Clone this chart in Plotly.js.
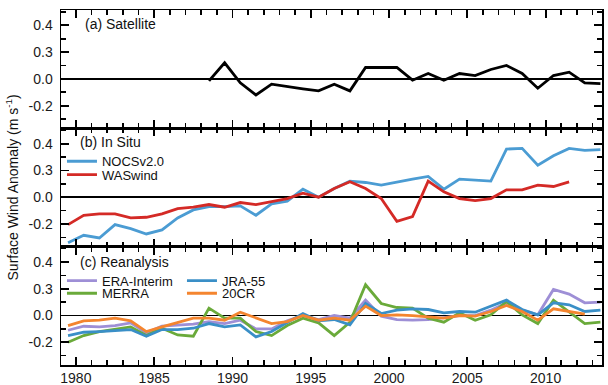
<!DOCTYPE html>
<html>
<head>
<meta charset="utf-8">
<script src="https://cdn.plot.ly/plotly-3.0.1.min.js"></script>
<style>html,body{margin:0;padding:0;background:#fff}#chart{width:608px;height:385px}</style>
</head>
<body>
<div id="chart"></div>
<script>
// ---------- data (annual means, plotted at mid-year) ----------
var yearsSat = [1988,1989,1990,1991,1992,1993,1994,1995,1996,1997,1998,1999,2000,2001,2002,2003,2004,2005,2006,2007,2008,2009,2010,2011,2012,2013];
var ssmi = [-0.015,0.12,-0.03,-0.12,-0.04,-0.06,-0.075,-0.09,-0.04,-0.09,0.085,0.085,0.085,-0.01,0.04,-0.01,0.04,0.025,0.07,0.10,0.04,-0.07,0.025,0.05,-0.03,-0.035];

var yearsAll = [1979,1980,1981,1982,1983,1984,1985,1986,1987,1988,1989,1990,1991,1992,1993,1994,1995,1996,1997,1998,1999,2000,2001,2002,2003,2004,2005,2006,2007,2008,2009,2010,2011,2012,2013];
var nocs = [-0.34,-0.285,-0.305,-0.205,-0.235,-0.275,-0.245,-0.155,-0.095,-0.07,-0.07,-0.065,-0.135,-0.05,-0.03,0.06,0.0,0.065,0.12,0.11,0.09,0.115,0.135,0.155,0.06,0.135,0.13,0.12,0.36,0.365,0.24,0.31,0.365,0.35,0.355];
var yearsWas = yearsAll.slice(0, 33);
var waswind = [-0.205,-0.135,-0.125,-0.125,-0.155,-0.15,-0.125,-0.085,-0.075,-0.055,-0.075,-0.04,-0.055,-0.03,-0.01,0.03,0.0,0.065,0.115,0.065,-0.01,-0.18,-0.145,0.12,0.04,-0.01,-0.025,-0.01,0.055,0.055,0.09,0.08,0.115];

var eraInterim = [-0.11,-0.08,-0.085,-0.075,-0.055,-0.13,-0.08,-0.075,-0.065,-0.045,-0.06,-0.035,-0.1,-0.1,-0.04,0.0,-0.03,0.0,-0.02,0.115,-0.005,-0.03,-0.035,-0.03,-0.015,0.0,0.0,0.04,0.095,0.04,0.005,0.195,0.16,0.095,0.1];
var jra55 = [-0.15,-0.125,-0.12,-0.115,-0.105,-0.155,-0.105,-0.105,-0.095,-0.06,-0.085,-0.07,-0.16,-0.12,-0.05,0.015,-0.04,-0.03,-0.07,0.09,0.015,0.04,0.05,0.045,0.02,0.03,0.025,0.07,0.115,0.045,0.005,0.095,0.08,0.03,0.04];
var merra = [-0.2,-0.15,-0.12,-0.1,-0.085,-0.15,-0.095,-0.145,-0.155,0.055,-0.02,-0.02,-0.12,-0.15,-0.075,-0.02,-0.055,-0.15,-0.05,0.23,0.09,0.06,0.055,-0.02,-0.05,0.02,-0.035,0.005,0.105,0.005,-0.06,0.115,0.03,-0.06,-0.05];
var years20cr = yearsAll.slice(0, 34);
var cr20 = [-0.075,-0.04,-0.035,-0.02,-0.04,-0.12,-0.085,-0.05,-0.02,-0.02,-0.035,0.025,-0.02,-0.06,-0.045,0.0,-0.035,-0.02,-0.035,0.07,0.0,0.005,0.0,-0.01,-0.02,0.0,-0.005,0.03,0.075,0.03,-0.035,0.05,0.03,0.01];

// tick labels as printed in the reference figure
var yLabelAlias = {'0.2': '0.3', '\u22120.2': '-0.2'};

// ---------- helpers ----------
function mid(arr){ return arr.map(function(y){ return y + 0.5; }); }
var FONT = 'Liberation Sans, Arial, sans-serif';

function tr(x, y, name, color, ax, lg){
  return {x: mid(x), y: y, name: name, type: 'scatter', mode: 'lines',
    line: {color: color, width: 2.8}, xaxis: ax[0], yaxis: ax[1], legend: lg};
}

var data = [
  tr(yearsSat, ssmi, 'SSM/I+SSMIS', '#000000', ['x','y'], 'legend'),
  tr(yearsAll, nocs, 'NOCSv2.0', '#4b9cd3', ['x2','y2'], 'legend2'),
  tr(yearsWas, waswind, 'WASwind', '#d42a26', ['x2','y2'], 'legend3'),
  tr(yearsAll, eraInterim, 'ERA-Interim', '#9e8fd6', ['x3','y3'], 'legend4'),
  tr(yearsAll, merra, 'MERRA', '#6aaa3a', ['x3','y3'], 'legend5'),
  tr(yearsAll, jra55, 'JRA-55', '#3a8fc7', ['x3','y3'], 'legend6'),
  tr(years20cr, cr20, '20CR', '#f4852f', ['x3','y3'], 'legend7')
];

var XR = [1979.05, 2013.6];
var YR = [-0.37, 0.515];

function xax(anchor, labels){
  return {range: XR, anchor: anchor, showline: true, linecolor: '#000', linewidth: 1.5,
    mirror: 'allticks', ticks: 'inside', ticklen: 8, tickwidth: 1.8, tickcolor: '#000',
    tick0: 1980, dtick: 5, showticklabels: labels, showgrid: false, zeroline: false,
    tickfont: {family: FONT, size: 14, color: '#1a1a1a'},
    minor: {ticks: 'inside', dtick: 1, ticklen: 5, tickwidth: 1.6, tickcolor: '#000', showgrid: false}};
}
function yax(anchor, domain){
  return {range: YR, domain: domain, anchor: anchor, showline: true, linecolor: '#000', linewidth: 1.5,
    mirror: 'allticks', ticks: 'inside', ticklen: 8, tickwidth: 1.8, tickcolor: '#000',
    tick0: 0, dtick: 0.2, tickformat: '.1f', labelalias: yLabelAlias, showgrid: false,
    zeroline: true, zerolinecolor: '#000', zerolinewidth: 1.5, ticklabelstandoff: 4,
    tickfont: {family: FONT, size: 14, color: '#1a1a1a'},
    minor: {ticks: 'inside', dtick: 0.1, ticklen: 5, tickwidth: 1.6, tickcolor: '#000', showgrid: false}};
}

function lg(x, y){
  return {x: x, y: y, xref: 'paper', yref: 'paper', xanchor: 'left', yanchor: 'middle',
    bgcolor: 'rgba(0,0,0,0)', borderwidth: 0, itemwidth: 30,
    font: {family: FONT, size: 13, color: '#111'}};
}

function ann(text, x, y, size){
  return {text: text, x: x, y: y, xref: 'paper', yref: 'paper', xanchor: 'left', yanchor: 'middle',
    showarrow: false, font: {family: FONT, size: size, color: '#111'}};
}

var layout = {
  width: 608, height: 385,
  margin: {l: 61, r: 6, t: 10, b: 20},
  paper_bgcolor: '#fff', plot_bgcolor: '#fff',
  xaxis: xax('y', false),
  xaxis2: xax('y2', false),
  xaxis3: xax('y3', true),
  yaxis: yax('x', [2/3, 1]),
  yaxis2: yax('x2', [1/3, 2/3]),
  yaxis3: yax('x3', [0, 1/3]),
  legend: lg(0.0018, 0.9118),
  legend2: lg(0.0018, 0.5738),
  legend3: lg(0.0018, 0.536),
  legend4: lg(0.0018, 0.2375),
  legend5: lg(0.0018, 0.202),
  legend6: lg(0.2236, 0.2375),
  legend7: lg(0.2236, 0.202),
  annotations: [
    ann('(a) Satellite', 0.0407, 0.9614, 14),
    ann('(b) In Situ', 0.0314, 0.628, 14),
    ann('(c) Reanalysis', 0.0314, 0.291, 14),
    {text: 'Surface Wind Anomaly (m s<sup>-1</sup>)', x: -0.0906, y: 0.5, xref: 'paper', yref: 'paper',
     xanchor: 'center', yanchor: 'middle', textangle: -90, showarrow: false,
     font: {family: FONT, size: 14, color: '#111'}}
  ]
};

Plotly.newPlot('chart', data, layout, {staticPlot: true, displayModeBar: false});
</script>
</body>
</html>
